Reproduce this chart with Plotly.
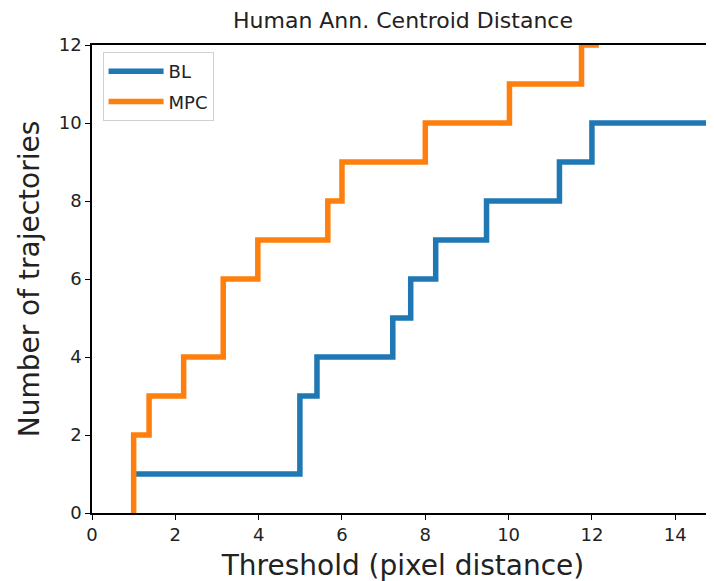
import plotly.graph_objects as go

# step points: y becomes the new value at each x
bl_x = [1.0, 4.99, 5.4, 7.22, 7.65, 8.25, 9.47, 11.22, 12.0, 15.0]
bl_y = [1, 3, 4, 5, 6, 7, 8, 9, 10, 10]

mpc_x = [1.0, 1.0, 1.37, 2.2, 3.15, 3.98, 5.66, 6.0, 8.0, 10.02, 11.75, 12.1, 15.0]
mpc_y = [0, 2, 3, 4, 6, 7, 8, 9, 10, 11, 12, 13, 13]

x_ticks = [0, 2, 4, 6, 8, 10, 12, 14]
y_ticks = [0, 2, 4, 6, 8, 10, 12]

FONT = "DejaVu Sans"

fig = go.Figure()
fig.add_trace(go.Scatter(
    x=bl_x, y=bl_y, mode="lines", name="BL", legendgroup="bl",
    line=dict(color="#1f77b4", width=5.5, shape="hv"),
))
fig.add_trace(go.Scatter(
    x=mpc_x, y=mpc_y, mode="lines", name="MPC", legendgroup="mpc",
    line=dict(color="#ff7f0e", width=5.5, shape="hv"),
))

axis_common = dict(
    showgrid=False, zeroline=False, showline=True, linecolor="black",
    linewidth=1.5, ticks="outside", ticklen=5, tickwidth=1.2,
    tickcolor="black", automargin=False,
    tickfont=dict(family=FONT, size=18, color="#222"),
    title_font=dict(family=FONT, size=28, color="#222"),
)

# the page body adds an 8px offset, so margins are shifted by 8px
fig.update_layout(
    width=714, height=581,
    margin=dict(l=84, r=8, t=37, b=76),
    paper_bgcolor="white", plot_bgcolor="white",
    title=dict(
        text="Human Ann. Centroid Distance",
        font=dict(family=FONT, size=22, color="#222"),
        x=0.5, xref="paper", xanchor="center",
        y=1 - 12 / 581, yref="container", yanchor="middle",
    ),
    xaxis=dict(
        axis_common, range=[0, 14.93], tickvals=x_ticks, mirror=True,
        title=dict(text="Threshold (pixel distance)", standoff=11),
    ),
    yaxis=dict(
        axis_common, range=[0, 12], tickvals=y_ticks,
        title=dict(text="Number of trajectories", standoff=11),
    ),
    legend=dict(
        x=0.017, y=0.985, xanchor="left", yanchor="top",
        bgcolor="white", bordercolor="#d0d0d0", borderwidth=1,
        font=dict(family=FONT, size=18, color="#222"),
        tracegroupgap=4, itemwidth=55,
    ),
)

fig.write_html("out.html")
